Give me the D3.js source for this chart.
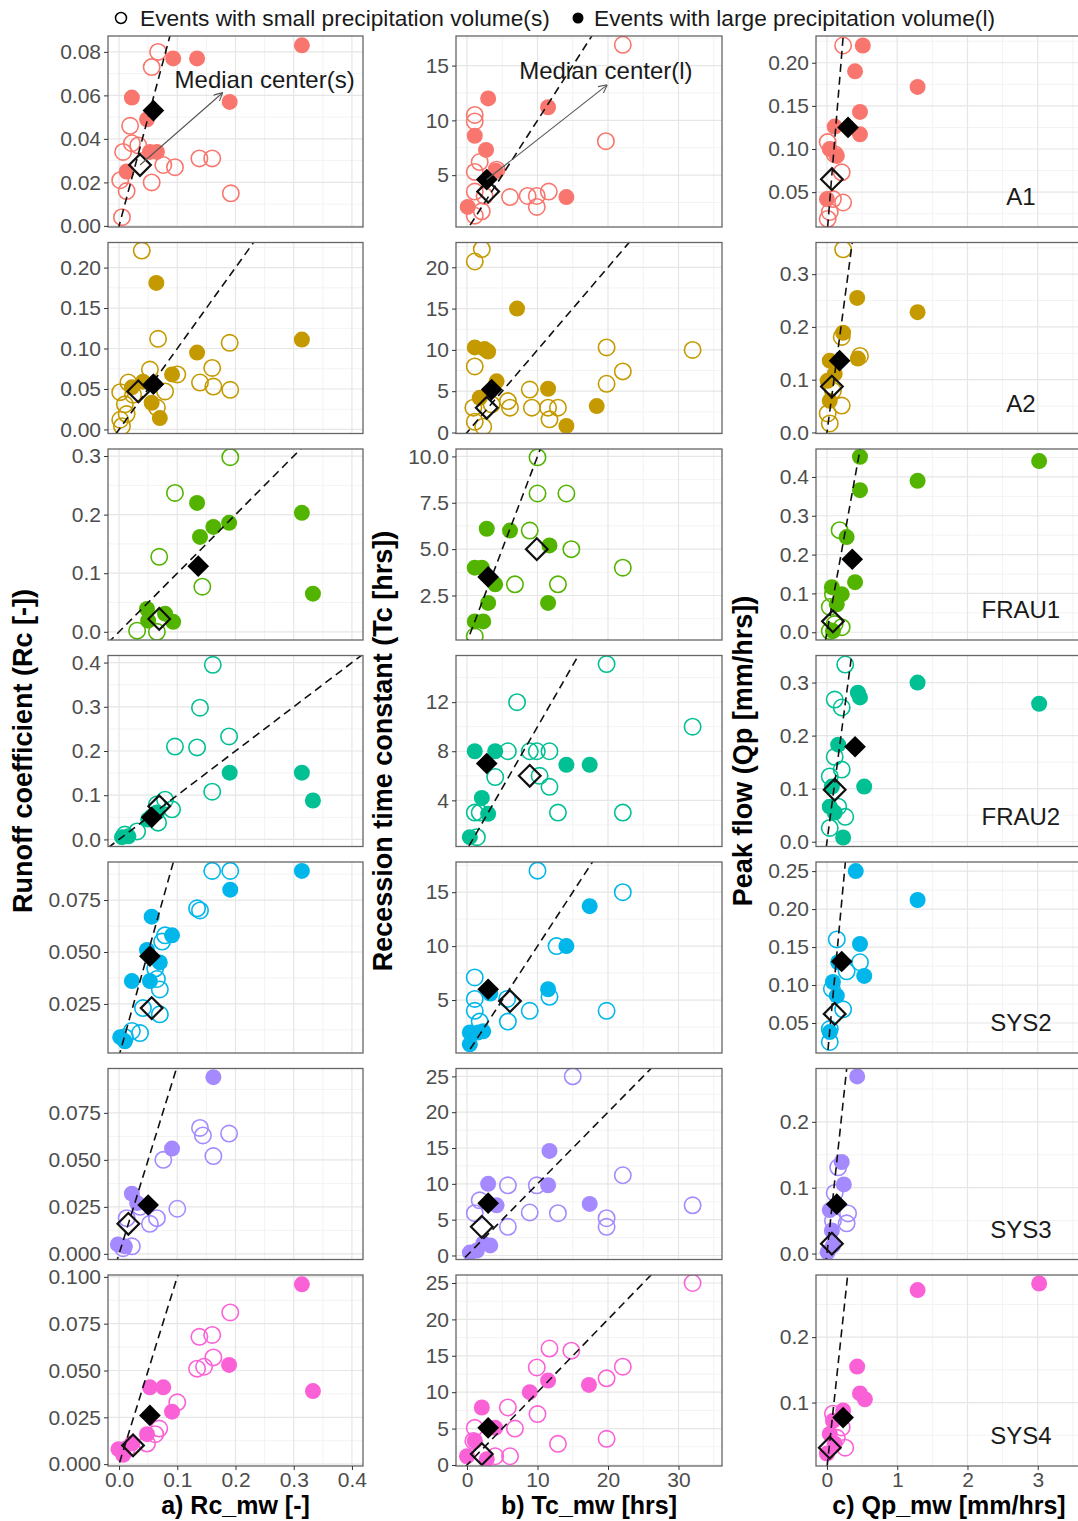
<!DOCTYPE html>
<html>
<head>
<meta charset="utf-8">
<script src="https://cdnjs.cloudflare.com/ajax/libs/d3/7.9.0/d3.min.js"></script>
<style>
  body { margin: 0; background: #fff; }
  text { font-family: "Liberation Sans", Arial, sans-serif; }
</style>
</head>
<body>
<script>
const sites = ['A1', 'A2', 'FRAU1', 'FRAU2', 'SYS2', 'SYS3', 'SYS4']
const siteColors = ['#F8766D', '#C49A00', '#53B400', '#00C094', '#00B6EB', '#A58AFF', '#FB61D7']

// a) runoff coefficient, points are [Rc_mw, Rc], one list per site
const rcSmall = [
  [[0.067,0.080],[0.056,0.073],[0.005,0.004],[0.013,0.016],[0.002,0.021],[0.056,0.020],[0.007,0.034],[0.019,0.046],[0.022,0.038],[0.033,0.037],[0.076,0.028],[0.096,0.027],[0.138,0.031],[0.160,0.031],[0.192,0.015]],
  [[0.039,0.221],[0.067,0.112],[0.190,0.107],[0.053,0.074],[0.160,0.076],[0.139,0.058],[0.162,0.053],[0.191,0.049],[0.100,0.068],[0.079,0.047],[0.016,0.058],[0.002,0.046],[0.010,0.031],[0.013,0.019],[0.005,0.004],[0.065,0.027],[0.024,0.043],[0.002,0.012]],
  [[0.191,0.298],[0.096,0.237],[0.069,0.128],[0.143,0.077],[0.031,0.002],[0.065,0.000]],
  [[0.161,0.395],[0.139,0.298],[0.096,0.210],[0.134,0.208],[0.189,0.233],[0.160,0.108],[0.065,0.079],[0.079,0.090],[0.091,0.068],[0.067,0.038],[0.010,0.011],[0.031,0.018]],
  [[0.160,0.089],[0.191,0.089],[0.134,0.071],[0.139,0.070],[0.079,0.058],[0.074,0.055],[0.062,0.042],[0.065,0.037],[0.070,0.032],[0.041,0.023],[0.070,0.020],[0.036,0.011],[0.022,0.012],[0.010,0.009]],
  [[0.139,0.067],[0.144,0.063],[0.189,0.064],[0.162,0.052],[0.076,0.050],[0.100,0.024],[0.065,0.019],[0.053,0.016],[0.036,0.025],[0.013,0.019],[0.007,0.003],[0.022,0.004]],
  [[0.191,0.081],[0.160,0.069],[0.138,0.068],[0.162,0.057],[0.134,0.051],[0.146,0.052],[0.100,0.033],[0.069,0.019],[0.062,0.016],[0.048,0.011],[0.013,0.008]]
]
const rcLarge = [
  [[0.093,0.077],[0.134,0.077],[0.314,0.083],[0.022,0.059],[0.190,0.057],[0.048,0.049],[0.065,0.034],[0.053,0.034],[0.013,0.025]],
  [[0.064,0.181],[0.314,0.111],[0.134,0.095],[0.091,0.068],[0.056,0.033],[0.070,0.014],[0.041,0.059],[0.022,0.052]],
  [[0.134,0.220],[0.314,0.203],[0.162,0.179],[0.189,0.186],[0.139,0.162],[0.333,0.065],[0.048,0.039],[0.093,0.017],[0.079,0.031],[0.050,0.019]],
  [[0.190,0.151],[0.314,0.151],[0.333,0.088],[0.056,0.052],[0.065,0.061],[0.005,0.005],[0.016,0.007],[0.050,0.045]],
  [[0.314,0.089],[0.191,0.080],[0.056,0.067],[0.091,0.058],[0.048,0.051],[0.070,0.045],[0.022,0.036],[0.053,0.036],[0.002,0.009],[0.010,0.007]],
  [[0.162,0.094],[0.091,0.056],[0.022,0.032],[0.031,0.027],[-0.002,0.005],[0.010,0.004]],
  [[0.314,0.096],[0.189,0.053],[0.333,0.039],[0.053,0.041],[0.076,0.041],[0.091,0.028],[0.048,0.016],[-0.001,0.008],[0.007,0.005],[0.022,0.011]]
]
const rcMedSmall = [[0.036,0.028],[0.033,0.047],[0.069,0.022],[0.069,0.075],[0.056,0.023],[0.016,0.016],[0.024,0.010]]
const rcMedLarge = [[0.059,0.053],[0.059,0.056],[0.136,0.112],[0.056,0.050],[0.053,0.048],[0.050,0.026],[0.053,0.026]]
const rcYDomain = [[-0.0005,0.0873],[-0.005,0.231],[-0.014,0.312],[-0.016,0.416],[0.0014,0.0933],[-0.003,0.0986],[-0.001,0.101]]
const rcYTicks = [[0,0.02,0.04,0.06,0.08],[0,0.05,0.1,0.15,0.2],[0,0.1,0.2,0.3],[0,0.1,0.2,0.3,0.4],[0.025,0.05,0.075],[0,0.025,0.05,0.075],[0,0.025,0.05,0.075,0.1]]
const rcYFormat = ['.2f','.2f','.1f','.1f','.3f','.3f','.3f']
const rcXDomain = [-0.019, 0.419]
const rcXTicks = [0, 0.1, 0.2, 0.3, 0.4]

// b) recession time constant, points are [Tc_mw, Tc]
const tcSmall = [
  [[22.1,16.9],[1.1,10.5],[1.1,9.9],[19.7,8.1],[1.8,6.2],[1.1,5.3],[4.2,5.5],[1.1,3.5],[6.1,3.0],[8.6,3.1],[9.9,3.1],[9.9,2.1],[11.6,3.5],[2.1,1.7],[1.1,1.3],[2.5,3.1]],
  [[2.1,22.2],[1.1,20.7],[1.1,8.0],[19.8,10.3],[32.0,10.0],[22.1,7.4],[19.8,5.9],[5.8,3.8],[6.1,3.0],[8.9,5.2],[9.2,3.0],[11.5,3.0],[12.9,3.0],[11.7,1.6],[0.9,3.0],[1.1,1.3],[2.3,0.7],[3.5,3.4]],
  [[10.0,9.95],[10.0,8.0],[14.1,8.0],[8.9,6.0],[14.8,5.0],[22.1,4.0],[6.8,3.1],[12.9,3.1],[1.1,0.3]],
  [[19.8,15.1],[7.1,12.0],[32.0,10.0],[5.8,8.0],[8.9,8.0],[9.9,8.0],[11.7,8.0],[4.0,5.9],[10.3,6.0],[11.7,5.1],[12.9,3.0],[22.1,3.0],[1.1,3.0],[1.8,3.0],[1.4,1.0]],
  [[10.0,17.0],[22.1,15.0],[12.7,10.0],[1.1,7.1],[1.1,5.1],[5.7,5.1],[11.7,5.3],[8.9,4.0],[19.8,4.0],[5.8,3.0],[1.1,4.0],[1.8,3.0]],
  [[15.0,25.0],[22.1,11.2],[5.8,9.8],[9.9,9.8],[32.0,7.0],[8.9,6.0],[12.9,5.9],[19.8,5.2],[19.8,4.0],[5.8,4.0],[1.1,5.9],[1.8,7.7]],
  [[32.0,25.0],[11.7,16.0],[14.8,15.7],[9.9,13.4],[22.1,13.5],[19.8,11.9],[5.8,7.9],[10.0,7.0],[6.8,5.0],[12.9,2.9],[19.8,3.6],[6.1,1.2],[4.0,1.2],[1.1,5.1],[0.9,3.3]]
]
const tcLarge = [
  [[3.0,12.0],[11.5,11.2],[1.1,8.6],[2.7,7.3],[14.1,3.0],[0.1,2.1],[4.1,5.4]],
  [[7.1,15.0],[1.1,10.3],[2.5,10.1],[3.0,9.8],[4.2,6.2],[11.5,5.3],[18.4,3.2],[14.1,0.8],[1.8,4.2]],
  [[2.8,6.1],[6.1,6.0],[11.7,5.2],[1.1,4.0],[2.1,4.0],[4.0,3.1],[3.0,2.1],[11.5,2.1],[1.1,1.1],[2.3,1.1]],
  [[1.1,8.0],[4.0,8.0],[14.1,6.9],[17.4,6.9],[2.1,4.2],[3.0,2.9],[0.4,1.0]],
  [[17.4,13.7],[14.1,10.0],[11.5,6.0],[3.3,5.6],[0.4,2.0],[1.6,2.0],[2.3,2.1],[0.4,0.9]],
  [[11.7,14.6],[11.5,9.8],[3.0,10.0],[17.4,7.2],[4.2,7.0],[2.3,1.7],[0.4,0.4],[1.4,0.7],[3.3,1.4]],
  [[11.5,11.6],[17.3,11.0],[8.9,10.0],[2.1,7.9],[4.0,5.1],[0.0,1.2],[1.1,3.3],[2.8,0.8]]
]
const tcMedSmall = [[3.0,3.5],[2.8,3.0],[9.9,5.0],[8.9,6.0],[6.1,4.9],[2.1,4.0],[2.1,1.5]]
const tcMedLarge = [[2.8,4.6],[3.5,5.2],[3.0,3.5],[2.8,7.0],[3.0,6.0],[3.0,7.3],[3.0,5.1]]
const tcYDomain = [[0.27,17.7],[-0.12,23.0],[0.1,10.4],[0.24,15.8],[0.09,17.8],[-0.56,26.1],[-0.14,26.1]]
const tcYTicks = [[5,10,15],[0,5,10,15,20],[2.5,5,7.5,10],[4,8,12],[5,10,15],[0,5,10,15,20,25],[0,5,10,15,20,25]]
const tcYFormat = ['d','d','.1f','d','d','d','d']
const tcXDomain = [-1.56, 36.17]
const tcXTicks = [0, 10, 20, 30]

// c) peak flow, points are [Qp_mw, Qp]
const qpSmall = [
  [[0.23,0.22],[0.01,0.108],[0.11,0.094],[0.21,0.073],[0.085,0.042],[0.23,0.038],[0.04,0.027],[0.01,0.019]],
  [[0.23,0.347],[0.21,0.181],[0.47,0.145],[0.085,0.079],[0.21,0.051],[0.04,0.017],[0.01,0.036]],
  [[0.18,0.263],[0.085,0.098],[0.04,0.065],[0.11,0.021],[0.04,0.003],[0.21,0.013]],
  [[0.26,0.334],[0.11,0.268],[0.21,0.253],[0.11,0.16],[0.21,0.136],[0.04,0.123],[0.16,0.066],[0.26,0.047],[0.04,0.026]],
  [[0.14,0.16],[0.47,0.13],[0.28,0.118],[0.07,0.095],[0.23,0.068],[0.04,0.042],[0.04,0.025]],
  [[0.16,0.131],[0.11,0.092],[0.3,0.061],[0.28,0.046],[0.085,0.05]],
  [[0.085,0.083],[0.21,0.062],[0.26,0.031],[0.14,0.046]]
]
const qpLarge = [
  [[0.51,0.22],[0.40,0.19],[1.29,0.172],[0.47,0.143],[0.47,0.117],[0.11,0.126],[0.04,0.10],[0.14,0.092],[0.0,0.042]],
  [[0.43,0.255],[1.29,0.228],[0.23,0.189],[0.44,0.14],[0.04,0.136],[0.11,0.111],[0.04,0.06],[0.01,0.098]],
  [[0.47,0.452],[3.02,0.441],[1.29,0.39],[0.47,0.366],[0.28,0.245],[0.40,0.129],[0.07,0.116],[0.21,0.098],[0.14,0.072],[0.085,0.003]],
  [[1.29,0.30],[3.02,0.26],[0.44,0.281],[0.47,0.272],[0.16,0.183],[0.53,0.104],[0.04,0.066],[0.11,0.055],[0.23,0.008],[0.07,0.104]],
  [[0.41,0.25],[1.29,0.212],[0.47,0.154],[0.53,0.112],[0.16,0.13],[0.085,0.104],[0.14,0.086],[0.04,0.038]],
  [[0.43,0.269],[0.21,0.139],[0.24,0.105],[0.04,0.066],[0.07,0.035],[0.01,0.002],[0.085,0.012]],
  [[1.29,0.272],[3.02,0.282],[0.43,0.155],[0.47,0.114],[0.54,0.105],[0.23,0.088],[0.085,0.072],[0.04,0.052],[0.0,0.022],[0.11,0.037]]
]
const qpMedSmall = [[0.07,0.065],[0.07,0.087],[0.085,0.028],[0.11,0.098],[0.11,0.062],[0.07,0.015],[0.04,0.031]]
const qpMedLarge = [[0.3,0.125],[0.18,0.136],[0.36,0.188],[0.40,0.179],[0.21,0.131],[0.14,0.075],[0.23,0.077]]
const qpYDomain = [[0.0096,0.231],[-0.002,0.36],[-0.02,0.472],[-0.009,0.351],[0.0105,0.262],[-0.009,0.281],[0.003,0.295]]
const qpYTicks = [[0.05,0.1,0.15,0.2],[0,0.1,0.2,0.3],[0,0.1,0.2,0.3,0.4],[0,0.1,0.2,0.3],[0.05,0.1,0.15,0.2,0.25],[0,0.1,0.2],[0.1,0.2]]
const qpYFormat = ['.2f','.1f','.1f','.1f','.2f','.1f','.1f']
const qpXDomain = [-0.156, 3.63]
const qpXTicks = [0, 1, 2, 3]

// arrows in the top row: [from, to] in data units, and where the label sits
const rcArrow = [[0.036, 0.028], [0.177, 0.061]]
const rcArrowLabel = [0.25, 0.0665]
const tcArrow = [[2.8, 4.6], [19.8, 13.2]]
const tcArrowLabel = [19.7, 14.4]

const columns = [
  { small: rcSmall, large: rcLarge, medS: rcMedSmall, medL: rcMedLarge, yDom: rcYDomain, yTicks: rcYTicks, yFmt: rcYFormat, xDom: rcXDomain, xTicks: rcXTicks, xFmt: '.1f',
    xTitle: 'a) Rc_mw [-]', yTitle: 'Runoff coefficient (Rc [-])', arrow: rcArrow, label: rcArrowLabel, labelText: 'Median center(s)' },
  { small: tcSmall, large: tcLarge, medS: tcMedSmall, medL: tcMedLarge, yDom: tcYDomain, yTicks: tcYTicks, yFmt: tcYFormat, xDom: tcXDomain, xTicks: tcXTicks, xFmt: 'd',
    xTitle: 'b) Tc_mw [hrs]', yTitle: 'Recession time constant (Tc [hrs])', arrow: tcArrow, label: tcArrowLabel, labelText: 'Median center(l)' },
  { small: qpSmall, large: qpLarge, medS: qpMedSmall, medL: qpMedLarge, yDom: qpYDomain, yTicks: qpYTicks, yFmt: qpYFormat, xDom: qpXDomain, xTicks: qpXTicks, xFmt: 'd',
    xTitle: 'c) Qp_mw [mm/hrs]', yTitle: 'Peak flow (Qp [mm/hrs])' }
]

const W = 1078, H = 1521
const colLeft = [108, 456, 816]
const colWidth = [255, 266, 266]
const rowTop0 = 36, rowStep = 206.5, panelH = 191
const yTitleX = [25, 385, 745]

const svg = d3.select('body').append('svg').attr('width', W).attr('height', H)
const defs = svg.append('defs')
defs.append('marker')
  .attr('id', 'arrowhead')
  .attr('viewBox', '0 0 10 10')
  .attr('refX', 9).attr('refY', 5)
  .attr('markerWidth', 9).attr('markerHeight', 9)
  .attr('markerUnits', 'userSpaceOnUse')
  .attr('orient', 'auto')
  .append('path')
  .attr('d', 'M0,0 L10,5 L0,10')
  .attr('fill', 'none')
  .attr('stroke', '#555')
  .attr('stroke-width', 1.2)

function minorTicks(ticks, dom) {
  const step = ticks.length > 1 ? ticks[1] - ticks[0] : 0.1
  const out = []
  for (let v = ticks[0] - step / 2; v <= dom[1]; v += step) {
    if (v >= dom[0]) out.push(v)
  }
  for (let v = ticks[0] - 1.5 * step; v >= dom[0]; v -= step) out.push(v)
  return out
}

function styleAxis(g) {
  g.select('.domain').remove()
  g.selectAll('.tick line').attr('stroke', '#333').attr('stroke-width', 1)
  g.selectAll('.tick text').attr('fill', '#4d4d4d').attr('font-size', 21)
}

function drawPanel(ci, ri) {
  const col = columns[ci]
  const x0 = colLeft[ci], y0 = rowTop0 + ri * rowStep
  const x = d3.scaleLinear(col.xDom, [x0, x0 + colWidth[ci]])
  const y = d3.scaleLinear(col.yDom[ri], [y0 + panelH, y0])
  const color = siteColors[ri]
  const clipId = `clip-${ci}-${ri}`
  defs.append('clipPath').attr('id', clipId)
    .append('rect').attr('x', x0).attr('y', y0).attr('width', colWidth[ci]).attr('height', panelH)

  const g = svg.append('g')
  const pg = g.append('g').attr('clip-path', `url(#${clipId})`)

  // grid
  const xMinor = minorTicks(col.xTicks, col.xDom)
  const yMinor = minorTicks(col.yTicks[ri], col.yDom[ri])
  pg.selectAll('.gxm').data(xMinor).join('line')
    .attr('x1', d => x(d)).attr('x2', d => x(d)).attr('y1', y0).attr('y2', y0 + panelH)
    .attr('stroke', '#f3f3f3').attr('stroke-width', 1)
  pg.selectAll('.gym').data(yMinor).join('line')
    .attr('y1', d => y(d)).attr('y2', d => y(d)).attr('x1', x0).attr('x2', x0 + colWidth[ci])
    .attr('stroke', '#f3f3f3').attr('stroke-width', 1)
  pg.selectAll('.gx').data(col.xTicks).join('line')
    .attr('x1', d => x(d)).attr('x2', d => x(d)).attr('y1', y0).attr('y2', y0 + panelH)
    .attr('stroke', '#e6e6e6').attr('stroke-width', 1.2)
  pg.selectAll('.gy').data(col.yTicks[ri]).join('line')
    .attr('y1', d => y(d)).attr('y2', d => y(d)).attr('x1', x0).attr('x2', x0 + colWidth[ci])
    .attr('stroke', '#e6e6e6').attr('stroke-width', 1.2)

  // points
  pg.selectAll('.small').data(col.small[ri]).join('circle')
    .attr('cx', d => x(d[0])).attr('cy', d => y(d[1])).attr('r', 8.2)
    .attr('fill', 'none').attr('stroke', color).attr('stroke-width', 1.6)
  pg.selectAll('.large').data(col.large[ri]).join('circle')
    .attr('cx', d => x(d[0])).attr('cy', d => y(d[1])).attr('r', 8)
    .attr('fill', color)

  // 1:1 line
  const lo = Math.min(col.xDom[0], col.yDom[ri][0]), hi = Math.max(col.xDom[1], col.yDom[ri][1])
  pg.append('line')
    .attr('x1', x(lo)).attr('y1', y(lo)).attr('x2', x(hi)).attr('y2', y(hi))
    .attr('stroke', '#111').attr('stroke-width', 1.6).attr('stroke-dasharray', '8,5')

  // median centres
  const diamond = d3.symbol(d3.symbolDiamond2, 300)
  pg.append('path')
    .attr('transform', `translate(${x(col.medS[ri][0])},${y(col.medS[ri][1])})`)
    .attr('d', diamond).attr('fill', 'none').attr('stroke', '#111').attr('stroke-width', 2.2)
  pg.append('path')
    .attr('transform', `translate(${x(col.medL[ri][0])},${y(col.medL[ri][1])})`)
    .attr('d', diamond).attr('fill', '#000')

  // border
  g.append('rect').attr('x', x0).attr('y', y0).attr('width', colWidth[ci]).attr('height', panelH)
    .attr('fill', 'none').attr('stroke', '#666').attr('stroke-width', 1.3)

  // axes
  g.append('g').attr('transform', `translate(${x0},0)`)
    .call(d3.axisLeft(y).tickValues(col.yTicks[ri]).tickFormat(d3.format(col.yFmt[ri])).tickSize(4).tickPadding(3))
    .call(styleAxis)
  if (ri === sites.length - 1) {
    g.append('g').attr('transform', `translate(0,${y0 + panelH})`)
      .call(d3.axisBottom(x).tickValues(col.xTicks).tickFormat(d3.format(col.xFmt)).tickSize(4).tickPadding(2))
      .call(styleAxis)
  }

  // annotations in the first row
  if (ri === 0 && col.arrow) {
    g.append('line')
      .attr('x1', x(col.arrow[0][0])).attr('y1', y(col.arrow[0][1]))
      .attr('x2', x(col.arrow[1][0])).attr('y2', y(col.arrow[1][1]))
      .attr('stroke', '#555').attr('stroke-width', 1.1)
      .attr('marker-end', 'url(#arrowhead)')
    g.append('text')
      .attr('x', x(col.label[0])).attr('y', y(col.label[1]))
      .attr('text-anchor', 'middle').attr('dominant-baseline', 'middle')
      .attr('font-size', 24).attr('fill', '#1a1a1a')
      .text(col.labelText)
  }

  // site label in the last column
  if (ci === 2) {
    g.append('text')
      .attr('x', x(2.76)).attr('y', y0 + panelH - 22)
      .attr('text-anchor', 'middle').attr('font-size', 24).attr('fill', '#1a1a1a')
      .text(sites[ri])
  }
}

columns.forEach((col, ci) => sites.forEach((s, ri) => drawPanel(ci, ri)))

// axis titles
const plotMid = rowTop0 + (rowStep * (sites.length - 1) + panelH) / 2
columns.forEach((col, ci) => {
  svg.append('text')
    .attr('transform', `translate(${yTitleX[ci]},${plotMid}) rotate(-90)`)
    .attr('text-anchor', 'middle').attr('dominant-baseline', 'middle')
    .attr('font-size', 27).attr('font-weight', 'bold').attr('fill', '#000')
    .text(col.yTitle)
  svg.append('text')
    .attr('x', colLeft[ci] + colWidth[ci] / 2).attr('y', 1514)
    .attr('text-anchor', 'middle')
    .attr('font-size', 25).attr('font-weight', 'bold').attr('fill', '#000')
    .text(col.xTitle)
})

// legend
const legend = svg.append('g')
legend.append('circle').attr('cx', 121).attr('cy', 18).attr('r', 5.5)
  .attr('fill', 'none').attr('stroke', '#000').attr('stroke-width', 1.5)
legend.append('text').attr('x', 140).attr('y', 26).attr('font-size', 22.7).attr('fill', '#1a1a1a')
  .text('Events with small precipitation volume(s)')
legend.append('circle').attr('cx', 578).attr('cy', 18).attr('r', 5.5).attr('fill', '#000')
legend.append('text').attr('x', 594).attr('y', 26).attr('font-size', 22.7).attr('fill', '#1a1a1a')
  .text('Events with large precipitation volume(l)')
</script>
</body>
</html>
